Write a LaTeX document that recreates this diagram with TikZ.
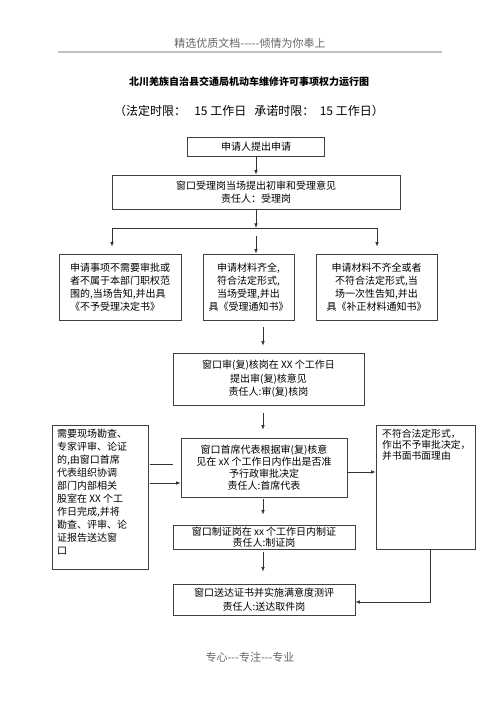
\documentclass[tikz,border=0pt]{standalone}
\usepackage{fontspec}
\setmainfont{Noto Sans CJK SC}
\usetikzlibrary{arrows.meta,calc}
\begin{document}
\begin{tikzpicture}[x=1pt,y=-1pt,
  box/.style={draw=black!75, line width=0.7pt, font=\fontsize{10}{13}\selectfont, align=center, inner sep=0pt},
  plainbox/.style={draw=black!75, line width=0.7pt, inner sep=0pt},
  txt/.style={font=\fontsize{10}{13}\selectfont, align=left, inner sep=0pt},
  arr/.style={-{Latex[length=4.5pt,width=3.5pt]}, line width=0.7pt, draw=black!80},
  ln/.style={line width=0.7pt, draw=black!80}]
\useasboundingbox (0,0) rectangle (500,708);

% header and footer
\node[font=\fontsize{11}{13}\selectfont, text=black!60] (hdr) at (250,43) {精选优质文档-{}-{}-{}-{}-倾情为你奉上};
\coordinate (hl1) at (58,52); \coordinate (hl2) at (442,52);
\draw[black!25, line width=1.2pt] (hl1) -- (hl2);
\node[font=\fontsize{11}{13}\selectfont, text=black!60] (ftr) at (250,657) {专心-{}-{}-专注-{}-{}-专业};

% title
\node[font=\bfseries\fontsize{10}{12}\selectfont] (title) at (249,82) {北川羌族自治县交通局机动车维修许可事项权力运行图};
\node[font=\fontsize{12}{14}\selectfont] (sub) at (249,111) {（法定时限：\ \ \ 15 工作日\ \ \ 承诺时限：\ \ 15 工作日）};

% boxes
\node[box, minimum width=137pt, minimum height=19pt] (b1) at (256,146.5) {申请人提出申请};
\node[box, minimum width=288pt, minimum height=34pt] (b2) at (256,192) {窗口受理岗当场提出初审和受理意见\\责任人：受理岗};

\node[box, minimum width=122pt, minimum height=66pt, align=left] (l3) at (120,287) {申请事项不需要审批或\\者不属于本部门职权范\\围的,当场告知,并出具\\《不予受理决定书》};
\node[box, minimum width=91pt, minimum height=66pt] (m3) at (248.5,287) {申请材料齐全,\\符合法定形式,\\当场受理,并出\\具《受理通知书》};
\node[box, minimum width=121pt, minimum height=66pt] (r3) at (376.5,287) {申请材料不齐全或者\\不符合法定形式,当\\场一次性告知,并出\\具《补正材料通知书》};

\node[box, minimum width=191pt, minimum height=52pt, font=\fontsize{10}{13.5}\selectfont] (b4) at (268.5,379) {窗口审(复)核岗在 XX 个工作日\\提出审(复)核意见\\责任人:审(复)核岗};
\node[box, minimum width=166pt, minimum height=59pt, font=\fontsize{10}{12}\selectfont] (b5) at (264,467.5) {窗口首席代表根据审(复)核意\\见在 xX 个工作日内作出是否准\\予行政审批决定\\责任人:首席代表};
\node[box, minimum width=182pt, minimum height=24pt, font=\fontsize{10}{11.5}\selectfont] (b6) at (264,537) {窗口制证岗在 xx 个工作日内制证\\责任人:制证岗};
\node[box, minimum width=182pt, minimum height=31pt, font=\fontsize{10}{14}\selectfont] (b7) at (264,599.5) {窗口送达证书并实施满意度测评\\责任人:送达取件岗};

% side boxes
\node[plainbox, minimum width=96pt, minimum height=144pt] (lb) at (100,497) {};
\node[txt, anchor=north west] (lbt) at (57,429) {需要现场勘查、\\专家评审、论证\\的,由窗口首席\\代表组织协调\\部门内部相关\\股室在 XX 个工\\作日完成,并将\\勘查、评审、论\\证报告送达窗\\口};
\node[plainbox, minimum width=99pt, minimum height=124pt] (rb) at (425.5,487) {};
\node[txt, anchor=north west, font=\fontsize{9.8}{11}\selectfont] (rbt) at (382,429) {不符合法定形式，\\作出不予审批决定，\\并书面书面理由};

% connectors
\draw[arr] (b1) -- (b2);
\coordinate (sp) at (256,228);
\draw[arr] (b2) -- (sp);
\coordinate (hl) at (112,228);
\coordinate (hr) at (377,228);
\draw[ln] (hl) -- (hr);
\draw[arr, shorten >=7pt] (hl) -- (hl |- l3.north);
\draw[arr, shorten >=7pt] (hr) -- (hr |- r3.north);
\coordinate (ms) at (256,236);
\draw[arr] (ms) -- (ms |- m3.north);

\coordinate (cx) at (263,0);
\draw[arr, shorten <=7pt, shorten >=7pt] (m3.south -| cx) -- (b4.north -| cx);
\draw[arr, shorten <=8pt, shorten >=8pt] (b4.south -| cx) -- (b5.north -| cx);
\draw[arr, shorten <=2pt, shorten >=10pt] (b5.south -| cx) -- (b6.north -| cx);
\draw[arr, shorten <=3pt, shorten >=12pt] (b6.south -| cx) -- (b7.north -| cx);

\coordinate (lt) at (173,464);
\draw[ln, shorten <=2pt] (lt -| lb.east) -- (lt);
\coordinate (la) at (0,483);
\draw[arr, shorten <=2pt] (la -| lb.east) -- (la -| b5.west);
\coordinate (ra) at (0,472);
\draw[arr] (ra -| b5.east) -- (ra -| rb.west);
\coordinate (fb) at (430,602);
\draw[arr] (fb |- rb.south) -- (fb) -- (fb -| b7.east);
\end{tikzpicture}
\end{document}
